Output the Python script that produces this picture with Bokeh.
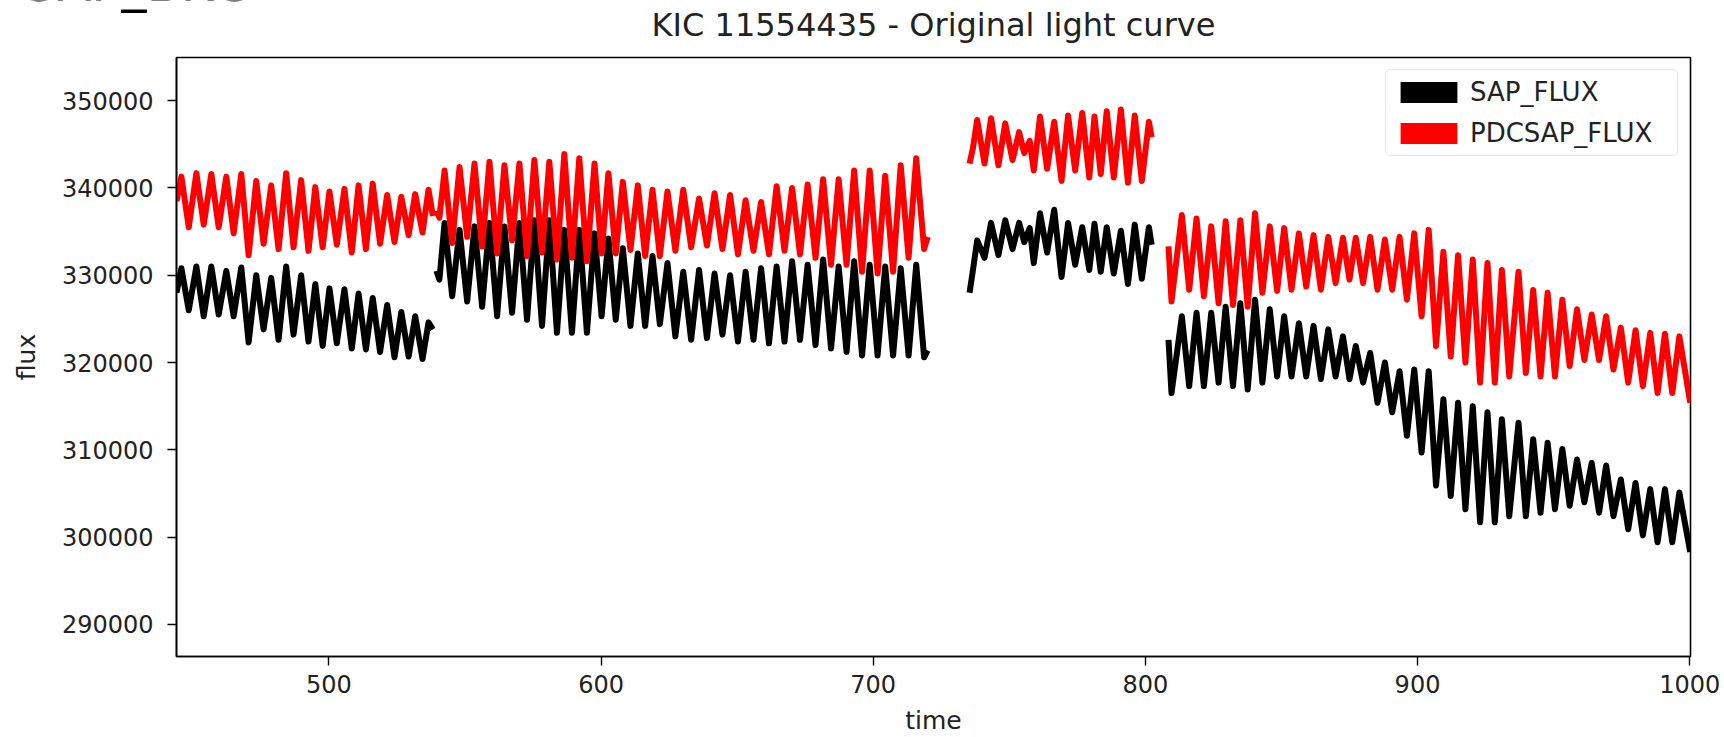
from bokeh.plotting import figure
from bokeh.layouts import column
from bokeh.models import (Range1d, FixedTicker, BasicTickFormatter, Legend,
                          LegendItem, Label, ColumnDataSource)
from bokeh.embed import file_html
from bokeh.resources import INLINE

# ---------------- data (alternating peaks / troughs) ----------------
# Quarter 5
t_q5 = [444.0, 445.8, 448.5, 451.3, 454.0, 456.8, 459.5, 462.3, 465.0, 467.8, 470.5,
        473.3, 476.0, 478.8, 481.5, 484.3, 487.0, 489.8, 492.5, 495.0, 497.7, 500.2,
        502.9, 505.7, 508.4, 510.9, 513.6, 516.1, 518.8, 521.4, 524.1, 526.6, 529.3,
        531.7, 534.4, 536.6, 538.2]
sap_q5 = [328000, 330800, 326000, 331000, 325300, 331000, 325500, 330500, 325300, 330900,
          322300, 330000, 323800, 329700, 322600, 331000, 323200, 330000, 322400, 329000,
          321900, 328500, 322200, 328400, 321600, 327900, 321500, 327400, 321200, 326600,
          320600, 325800, 320700, 325300, 320400, 324600, 323800]
pdc_q5 = [338500, 341300, 335500, 341700, 335800, 341600, 335500, 341300, 334800, 341600,
          332300, 340800, 333600, 340300, 333000, 341700, 333200, 340900, 332800, 340100,
          333200, 339600, 333500, 339900, 332600, 340300, 333000, 340500, 333600, 339200,
          333800, 339000, 334600, 339300, 334900, 339800, 336800]

# Quarters 6-7
t_q67 = [539.5, 540.6, 542.5, 545.3, 548.0, 550.8, 553.5, 556.3, 559.0, 561.8, 564.5,
         567.3, 570.0, 572.8, 575.5, 578.3, 581.0, 583.8, 586.5, 589.3, 592.0, 594.8,
         597.6, 600.2, 602.7, 605.4, 608.0, 610.8, 613.5, 616.2, 618.9, 621.6, 624.4,
         627.3, 630.2, 633.1, 636.0, 638.9, 641.7, 644.6, 647.4, 650.3, 653.1, 656.0,
         658.8, 661.7, 664.5, 667.4, 670.2, 673.1, 675.9, 678.8, 681.6, 684.5, 687.3,
         690.2, 693.0, 695.9, 698.7, 701.6, 704.4, 707.3, 710.1, 713.0, 715.8, 718.7,
         720.0]
sap_q67 = [330500, 329500,
           336000, 327600, 335200, 327000, 335600, 326400, 336000, 325300,
           335600, 325700, 336000, 324900, 336300, 324200, 336300, 323400,
           335200, 323400, 335200, 323400, 334800, 325300, 334200, 324900,
           333100, 324200, 332500, 324200, 332200, 324400, 331400, 323000,
           330400, 322600, 330600, 322800, 330200, 323200, 330000, 322400,
           330400, 322600, 330800, 322200, 331000, 322400, 331600, 322600,
           331200, 322000, 331800, 321600, 331000, 321200, 331600, 320800,
           331200, 320800, 331000, 320800, 330800, 320800, 331200, 320600,
           321400]
pdc_q67 = [337400, 336600,
           342000, 333700, 342400, 334400, 342800, 333300, 343000, 332500,
           342600, 334000, 342800, 332200, 343200, 332600, 343000, 331800,
           343900, 332000, 343400, 331600, 342800, 332500, 341700, 332500,
           340700, 332900, 340300, 332200, 339800, 332200, 339600, 332800,
           339800, 333200, 338800, 333400, 339400, 333000, 339200, 332400,
           338600, 332800, 338400, 332400, 340200, 332800, 340000, 332400,
           340400, 332000, 341000, 331200, 341000, 331200, 342000, 330400,
           342000, 330200, 341400, 330400, 342600, 332000, 343400, 333000,
           334400]

# Quarter 8
t_q8 = [735.4, 736.6, 738.2, 740.9, 743.3, 746.0, 748.5, 751.2, 753.6, 755.5, 757.5,
        759.0, 761.3, 763.9, 766.5, 769.2, 771.6, 774.2, 776.8, 779.4, 781.3, 783.6,
        785.8, 788.4, 791.0, 793.6, 796.1, 798.7, 801.3, 802.3]
sap_q8 = [328000, 330500, 334000, 332000, 336000, 332300, 336300, 333000, 336000, 333800,
          335400, 331400, 337100, 332600, 337500, 329800, 336000, 331200, 335500, 330600,
          335900, 330400, 335500, 330200, 335100, 329000, 335800, 329600, 335500, 333500]
pdc_q8 = [342800, 344500, 347800, 342800, 348000, 342600, 347400, 343200, 346400, 344000,
          345400, 342000, 348200, 342200, 347600, 340800, 348300, 342000, 348600, 341200,
          348200, 341600, 348800, 341200, 349000, 340600, 348300, 340800, 347600, 345800]

# Quarters 9-10
t_q910 = [808.5, 809.6, 813.4, 816.1, 818.8, 821.5, 824.2, 826.9, 829.5, 832.2, 834.9,
          837.6, 840.3, 843.0, 845.7, 848.4, 851.0, 853.7, 856.4, 859.1, 861.8, 864.5,
          867.2, 869.9, 872.6, 875.0, 877.3, 880.0, 882.6, 885.3, 888.0, 890.7, 893.4,
          896.1, 898.8, 901.5, 904.1, 906.8, 909.5, 912.2, 914.9, 917.6, 920.3, 923.0,
          925.7, 928.4, 931.0, 933.7, 937.1, 939.8, 942.5, 945.2, 947.8, 950.5, 953.2,
          955.9, 958.6, 961.3, 964.0, 966.7, 969.3, 972.0, 974.7, 977.4, 980.1, 982.8,
          985.5, 988.2, 990.9, 993.6, 996.2, 1000.2]
sap_q910 = [322600, 316500,
            325300, 317300, 325700, 317300, 325700, 317700, 326400, 317300,
            326800, 316900, 327200, 317700, 326100, 318400, 325300, 318400,
            324500, 318400, 324200, 318100, 323800, 318400, 323000, 318100,
            321900, 317700, 321100, 315400, 320000, 314300, 319000, 311600,
            319200, 309700, 319000, 305900, 315800, 304700, 315400, 303200,
            315000, 301700, 314300, 301700, 313500, 302400, 313100, 302400,
            311200, 302800, 310800, 303200, 310100, 303600, 308900, 304000,
            308500, 302800, 308200, 302400, 306600, 300900, 306200, 300200,
            305500, 299400, 305500, 299400, 305100, 298300]
pdc_q910 = [333300, 327000,
            336900, 328350, 336500, 327600, 335600, 326800, 336200, 326600,
            336300, 326400, 337100, 328000, 335600, 328200, 335400, 328350,
            334800, 328700, 334600, 328350, 334400, 329100, 334300, 329500,
            334300, 329100, 334400, 328350, 334100, 328350, 334400, 327200,
            334800, 325300, 335200, 321900, 332700, 320700, 332300, 320000,
            331800, 317700, 331400, 317700, 330600, 318400, 330400, 318800,
            328300, 318400, 328000, 318400, 327200, 319600, 326100, 320300,
            325500, 320300, 325300, 319200, 324000, 317700, 323700, 317300,
            323400, 316500, 323300, 316500, 323000, 315400]

x_ticks = [500, 600, 700, 800, 900, 1000]
y_ticks = [290000, 300000, 310000, 320000, 330000, 340000, 350000]
series_names = ["SAP_FLUX", "PDCSAP_FLUX"]
series_colors = ["#000000", "#ff0000"]
title_text = "KIC 11554435 - Original light curve"
prev_panel_title = "SAP_BKG"

# ---------------- assemble (NaN between observing segments) ----------------
nan = float("nan")
time, sap, pdc = [], [], []
for t, s, d in [(t_q5, sap_q5, pdc_q5), (t_q67, sap_q67, pdc_q67),
                (t_q8, sap_q8, pdc_q8), (t_q910, sap_q910, pdc_q910)]:
    if time:
        time.append(nan); sap.append(nan); pdc.append(nan)
    time += t; sap += s; pdc += d

src = ColumnDataSource(dict(time=time, sap=sap, pdc=pdc))

FONT = "DejaVu Sans"
TXT = "#222222"
W = 1724
TOP_H = 56
FRAME_L, FRAME_R = 176, 1690

# ---------------- header strip (title + cut-off heading above) ----------------
head = figure(width=W, height=TOP_H, x_range=Range1d(0, W), y_range=Range1d(TOP_H, 0),
              output_backend="svg", toolbar_location=None, title_location=None,
              x_axis_type=None, y_axis_type=None,
              min_border_left=0, min_border_right=0, min_border_top=0, min_border_bottom=0,
              background_fill_color="white", border_fill_color="white")
if "frame_align" in head.properties():
    head.frame_align = False          # header frame spans the whole width
else:
    head.x_range = Range1d(FRAME_L, FRAME_R)   # frame gets aligned with the plot below
head.outline_line_color = None
# label anchor sits ~0.385 em above the baseline in this renderer
head.add_layout(Label(x=24, y=3 - 0.385 * 50, text=prev_panel_title, text_font=FONT,
                      text_font_size="50px", text_baseline="alphabetic",
                      text_color="black"))
head.add_layout(Label(x=(FRAME_L + FRAME_R) / 2, y=37 - 0.385 * 32, text=title_text,
                      text_font=FONT, text_font_size="32px", text_baseline="alphabetic",
                      text_align="center", text_color=TXT))

# ---------------- main plot ----------------
p = figure(width=W, height=737 - TOP_H,
           x_range=Range1d(444.0, 1000.3), y_range=Range1d(286320, 354950),
           output_backend="svg", toolbar_location=None, title_location=None,
           min_border_left=FRAME_L, min_border_right=W - FRAME_R,
           min_border_top=1, min_border_bottom=80,
           background_fill_color="white", border_fill_color="white")

p.line("time", "sap", source=src, line_color=series_colors[0], line_width=6,
       line_join="round")
p.line("time", "pdc", source=src, line_color=series_colors[1], line_width=6,
       line_join="round")

p.xgrid.visible = False
p.ygrid.visible = False
p.outline_line_color = "black"
p.outline_line_width = 1.6
p.outline_line_alpha = 1.0

p.xaxis.ticker = FixedTicker(ticks=x_ticks)
p.yaxis.ticker = FixedTicker(ticks=y_ticks)
p.yaxis.formatter = BasicTickFormatter(use_scientific=False)
p.xaxis.axis_label = "time"
p.yaxis.axis_label = "flux"
for ax in (p.xaxis, p.yaxis):
    ax.axis_line_color = "black"
    ax.axis_line_width = 1.6
    ax.major_tick_line_color = "black"
    ax.major_tick_line_width = 1.4
    ax.major_tick_out = 9
    ax.major_tick_in = 0
    ax.minor_tick_line_color = None
    ax.major_label_text_font = FONT
    ax.major_label_text_font_size = "24px"
    ax.major_label_text_color = TXT
    ax.axis_label_text_font = FONT
    ax.axis_label_text_font_size = "25px"
    ax.axis_label_text_font_style = "normal"
    ax.axis_label_text_color = TXT
p.xaxis.major_label_standoff = 9
p.yaxis.major_label_standoff = 14
p.xaxis.axis_label_standoff = 10
p.xaxis.axis_label_text_line_height = 1.0
p.xaxis.major_label_text_line_height = 1.0
p.yaxis.axis_label_standoff = 18

# legend with filled patches (swatch renderers sit outside the visible range)
sw_src = ColumnDataSource(dict(l=[0.0], r=[1.0], t=[1.0], b=[0.0]))
sw_sap = p.quad(left="l", right="r", top="t", bottom="b", source=sw_src,
                fill_color=series_colors[0], line_color=None)
sw_pdc = p.quad(left="l", right="r", top="t", bottom="b", source=sw_src,
                fill_color=series_colors[1], line_color=None)
legend = Legend(items=[LegendItem(label=series_names[0], renderers=[sw_sap]),
                       LegendItem(label=series_names[1], renderers=[sw_pdc])],
                location="top_right")
legend.label_text_font = FONT
legend.label_text_font_size = "26px"
legend.label_text_color = TXT
legend.glyph_width = 71
legend.glyph_height = 26
legend.label_standoff = 6
legend.label_width = 200
legend.padding = 7
legend.spacing = 11
legend.margin = 12
legend.border_line_color = "#cccccc"
legend.border_line_width = 1.2
legend.background_fill_color = "white"
legend.background_fill_alpha = 0.8
if "border_radius" in legend.properties():
    legend.border_radius = 5
p.add_layout(legend)

layout = column(head, p, spacing=0)
open("out.html", "w").write(file_html(layout, INLINE))
